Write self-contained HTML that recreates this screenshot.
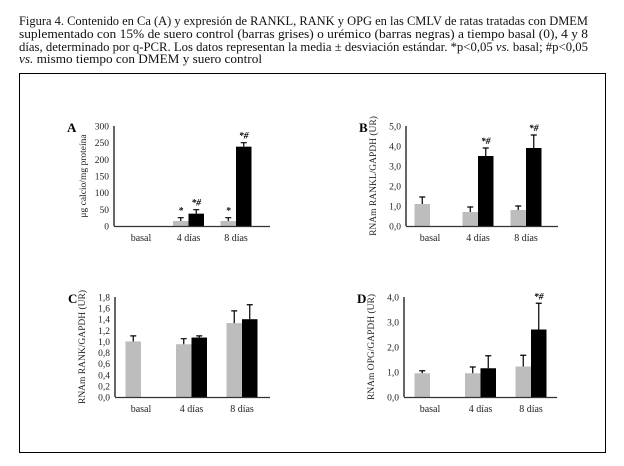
<!DOCTYPE html>
<html><head><meta charset="utf-8"><style>
body{margin:0;background:#fff;width:624px;height:466px;overflow:hidden}
svg{display:block;font-family:"Liberation Serif",serif}
</style></head><body>
<svg id="s" width="624" height="466">
<g font-size="12.5" fill="#111" font-family="Liberation Serif, serif">
<text x="19" y="25" textLength="569" lengthAdjust="spacingAndGlyphs">Figura 4. Contenido en Ca (A) y expresión de RANKL, RANK y OPG en las CMLV de ratas tratadas con DMEM</text>
<text x="19" y="38" textLength="569" lengthAdjust="spacingAndGlyphs">suplementado con 15% de suero control (barras grises) o urémico (barras negras) a tiempo basal (0), 4 y 8</text>
<text x="19" y="51" textLength="569" lengthAdjust="spacingAndGlyphs">días, determinado por q-PCR. Los datos representan la media ± desviación estándar. *p&lt;0,05 <tspan font-style="italic">vs.</tspan> basal; #p&lt;0,05</text>
<text x="19" y="63" textLength="243" lengthAdjust="spacingAndGlyphs"><tspan font-style="italic">vs.</tspan> mismo tiempo con DMEM y suero control</text>
</g>
<rect x="19.5" y="73.5" width="586" height="379" fill="none" stroke="#000" stroke-width="1"/>
</svg>
<script>
const categories=["basal","4 días","8 días"];
const aGray=[0,15,15], aGrayErr=[0,10,10], aBlack=[0,37,238], aBlackErr=[0,12,12], aMarks=[["",""],["*","*#"],["*","*#"]];
const aTicks=["0","50","100","150","200","250","300"];
const bGray=[1.1,0.7,0.8], bGrayErr=[0.35,0.25,0.2], bBlack=[0,3.5,3.9], bBlackErr=[0,0.4,0.65], bMarks=[["",""],["","*#"],["","*#"]];
const bTicks=["0,0","1,0","2,0","3,0","4,0","5,0"];
const cGray=[1.0,0.95,1.33], cGrayErr=[0.1,0.1,0.22], cBlack=[0,1.07,1.4], cBlackErr=[0,0.03,0.26], cMarks=[["",""],["",""],["",""]];
const cTicks=["0,0","0,2","0,4","0,6","0,8","1,0","1,2","1,4","1,6","1,8"];
const dGray=[0.95,0.95,1.22], dGrayErr=[0.1,0.25,0.45], dBlack=[0,1.15,2.7], dBlackErr=[0,0.5,1.05], dMarks=[["",""],["",""],["","*#"]];
const dTicks=["0,0","1,0","2,0","3,0","4,0"];

const NS="http://www.w3.org/2000/svg";
const svg=document.getElementById('s');
function mk(t,a,p,txt){const e=document.createElementNS(NS,t);for(const k in a)e.setAttribute(k,a[k]);if(txt!==undefined)e.textContent=txt;p.appendChild(e);return e;}

function panel(cfg){
  const g=mk('g',{},svg);
  
  
  const ticks=cfg.ticks, max=parseFloat(ticks[ticks.length-1].replace(',','.'));
  const y=v=>cfg.y0-(v/max)*(cfg.y0-cfg.yTop);
  const cx=i=>cfg.c0+i*cfg.step;
  const bw=15.5;
  const L=mk('text',{x:cfg.ax-47,y:cfg.yTop+6,'font-size':13,'font-weight':'bold'},g,cfg.letter);
  
  
  ticks.forEach(t=>{const v=parseFloat(t.replace(',','.'));
    const tl=mk('text',{x:cfg.ax-5,y:y(v)+3.5,'font-size':9.5,'text-anchor':'end',fill:'#222'},g,t);
    
    
  });
  const ty=(cfg.y0+cfg.yTop)/2;
  const yt=mk('text',{x:cfg.ax-cfg.titleOff,y:ty,'font-size':9.5,'text-anchor':'middle',transform:`rotate(-90 ${cfg.ax-cfg.titleOff} ${ty})`,fill:'#222'},g,cfg.title);
  
  
  categories.forEach((c,i)=>{
    [[cfg.gray,cfg.grayErr,'#bdbdbd',-bw,0],[cfg.black,cfg.blackErr,'#000',0,1]].forEach(([vals,errs,col,off,k])=>{
      const v=vals[i]; if(v<=0) return;
      const x=cx(i)+off;
      const r=mk('rect',{x:x,y:y(v),width:bw,height:cfg.y0-y(v),fill:col},g);
      
      
      const e=errs[i], mx=x+bw/2;
      if(e>0){
        const el=mk('path',{d:`M${mx} ${y(v)}V${y(v+e)}M${mx-3} ${y(v+e)}H${mx+3}`,stroke:'#000','stroke-width':1.2,fill:'none'},g);
        
        
      }
      const m=cfg.marks[i][k];
      if(m){const st=mk('text',{x:mx,y:y(v+e)-4,'font-size':9.5,'text-anchor':'middle','font-style':'italic','font-weight':'bold'},g,m);
        
        }
    });
    const xl=mk('text',{x:cx(i),y:cfg.y0+15,'font-size':10,'text-anchor':'middle',fill:'#222'},g,c);
    
    
  });
  const ya=mk('line',{x1:cfg.ax,y1:cfg.yTop,x2:cfg.ax,y2:cfg.y0,stroke:'#000','stroke-width':1.2},g);
  
  
  const xa=mk('line',{x1:cfg.ax,y1:cfg.y0+0.5,x2:cfg.xEnd,y2:cfg.y0+0.5,stroke:'#333','stroke-width':1.3},g);
  
  
}
panel({letter:'A',ax:114,y0:226,yTop:126,c0:141,step:47.5,xEnd:270,ticks:aTicks,gray:aGray,grayErr:aGrayErr,black:aBlack,blackErr:aBlackErr,marks:aMarks,title:'μg calcio/mg proteína',titleOff:28});
panel({letter:'B',ax:406,y0:226,yTop:126,c0:430,step:48,xEnd:558,ticks:bTicks,gray:bGray,grayErr:bGrayErr,black:bBlack,blackErr:bBlackErr,marks:bMarks,title:'RNAm RANKL/GAPDH (UR)',titleOff:30});
panel({letter:'C',ax:115,y0:397,yTop:297,c0:141,step:50.5,xEnd:270,ticks:cTicks,gray:cGray,grayErr:cGrayErr,black:cBlack,blackErr:cBlackErr,marks:cMarks,title:'RNAm RANK/GAPDH (UR)',titleOff:30});
panel({letter:'D',ax:404,y0:397,yTop:297,c0:430,step:50.5,xEnd:557,ticks:dTicks,gray:dGray,grayErr:dGrayErr,black:dBlack,blackErr:dBlackErr,marks:dMarks,title:'RNAm OPG/GAPDH (UR)',titleOff:30});
</script>
</body></html>
